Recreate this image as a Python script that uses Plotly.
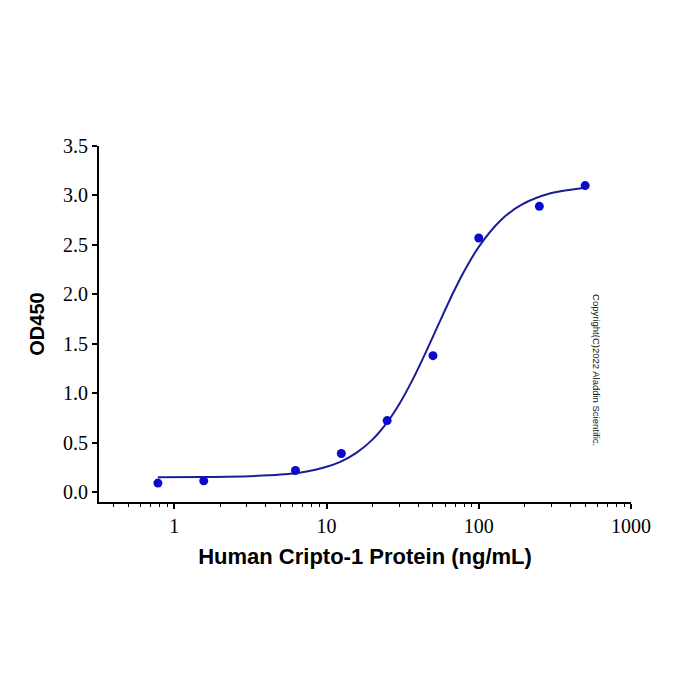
import plotly.graph_objects as go

# Measured data points
conc = [0.78, 1.56, 6.25, 12.5, 25, 50, 100, 250, 500]
od450 = [0.091, 0.114, 0.218, 0.39, 0.723, 1.38, 2.57, 2.89, 3.10]

# Fitted curve (smoothed readings)
fit_x = [0.78, 1.56, 3.13, 5.0, 7.4, 9.5, 12.2, 15.7, 20, 25, 30,
         37, 45, 55, 68, 80, 100, 140, 190, 300, 485]
fit_y = [0.150, 0.153, 0.161, 0.177, 0.209, 0.246, 0.304, 0.397, 0.531, 0.706, 0.889,
         1.145, 1.418, 1.713, 2.018, 2.231, 2.480, 2.751, 2.904, 3.024, 3.076]

x_tickvals = [1, 10, 100, 1000]
x_ticktext = ["1", "10", "100", "1000"]
y_tickvals = [0.0, 0.5, 1.0, 1.5, 2.0, 2.5, 3.0, 3.5]
y_ticktext = ["0.0", "0.5", "1.0", "1.5", "2.0", "2.5", "3.0", "3.5"]

fig = go.Figure()
fig.add_trace(go.Scatter(x=fit_x, y=fit_y, mode="lines",
                         line=dict(color="#1c1c96", width=2, shape="spline", smoothing=0.8),
                         hoverinfo="skip", showlegend=False))
fig.add_trace(go.Scatter(x=conc, y=od450, mode="markers",
                         marker=dict(color="#0a0acc", size=9),
                         showlegend=False))

fig.update_layout(
    width=700, height=700,
    margin=dict(l=99, r=69, t=146, b=198),
    paper_bgcolor="white", plot_bgcolor="white",
    font=dict(family="Liberation Serif", color="black"),
    xaxis=dict(type="log", range=[-0.495, 3.0],
               tickmode="array", tickvals=x_tickvals, ticktext=x_ticktext,
               ticks="outside", ticklen=5, tickwidth=1.5, tickcolor="black",
               showline=True, linecolor="black", linewidth=2,
               showgrid=False, zeroline=False,
               tickfont=dict(family="Liberation Serif", size=20, color="black"),
               minor=dict(ticks="outside", ticklen=3, tickwidth=1, tickcolor="black",
                          dtick="D1", showgrid=False),
               title=dict(text="<b>Human Cripto-1 Protein (ng/mL)</b>",
                          font=dict(family="Liberation Sans", size=22, color="black"),
                          standoff=13)),
    yaxis=dict(range=[-0.1, 3.5],
               tickmode="array", tickvals=y_tickvals, ticktext=y_ticktext,
               ticks="outside", ticklen=5, tickwidth=1.5, tickcolor="black",
               showline=True, linecolor="black", linewidth=2,
               showgrid=False, zeroline=False,
               tickfont=dict(family="Liberation Serif", size=20, color="black"),
               title=dict(text="<b>OD450</b>",
                          font=dict(family="Liberation Sans", size=20, color="black"),
                          standoff=13)),
)

fig.add_annotation(text="Copyright(C)2022 Aladdin Scientific.",
                   xref="paper", yref="paper", x=0.948, y=0.371,
                   showarrow=False, textangle=90,
                   font=dict(family="Liberation Sans", size=9.5, color="#111111"))

fig.write_html("out.html")
